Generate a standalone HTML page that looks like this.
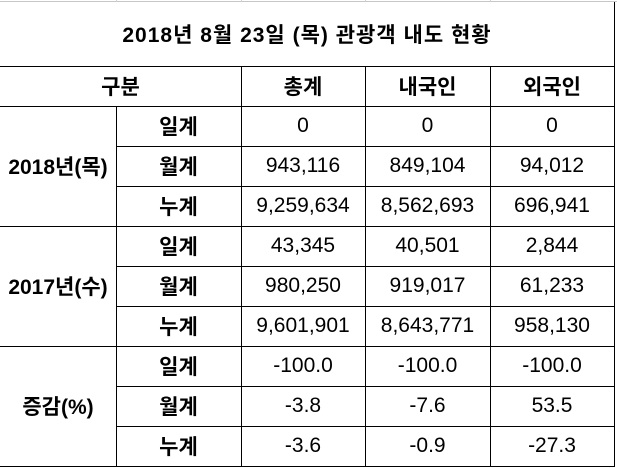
<!DOCTYPE html>
<html>
<head>
<meta charset="utf-8">
<style>
html,body{margin:0;padding:0;background:#fff;}
body{width:617px;height:468px;overflow:hidden;position:relative;
font-family:"Liberation Sans","Noto Sans CJK KR",sans-serif;color:#000;}
.h{position:absolute;height:1px;background:#000;}
.v{position:absolute;width:1px;background:#000;}
.c{position:absolute;display:flex;align-items:center;justify-content:center;
font-size:21px;white-space:nowrap;}
.b{font-weight:bold;}
</style>
</head>
<body>
<!-- grey gridline at top -->
<div style="position:absolute;left:0;top:1px;width:617px;height:1px;background:#c6c6c6;"></div>
<div style="position:absolute;left:116px;top:0;width:1px;height:2px;background:#d0d0d0;"></div>
<div style="position:absolute;left:241px;top:0;width:1px;height:2px;background:#d0d0d0;"></div>
<div style="position:absolute;left:365px;top:0;width:1px;height:2px;background:#d0d0d0;"></div>
<div style="position:absolute;left:490px;top:0;width:1px;height:2px;background:#d0d0d0;"></div>

<!-- horizontal lines -->
<div class="h" style="left:0;top:66px;width:615px;"></div>
<div class="h" style="left:0;top:106px;width:615px;"></div>
<div class="h" style="left:116px;top:146px;width:499px;"></div>
<div class="h" style="left:116px;top:186px;width:499px;"></div>
<div class="h" style="left:0;top:226px;width:615px;"></div>
<div class="h" style="left:116px;top:266px;width:499px;"></div>
<div class="h" style="left:116px;top:306px;width:499px;"></div>
<div class="h" style="left:0;top:346px;width:615px;"></div>
<div class="h" style="left:116px;top:386px;width:499px;"></div>
<div class="h" style="left:116px;top:426px;width:499px;"></div>
<div class="h" style="left:0;top:466px;width:615px;"></div>

<!-- vertical lines -->
<div class="v" style="left:116px;top:106px;height:361px;"></div>
<div class="v" style="left:241px;top:66px;height:401px;"></div>
<div class="v" style="left:365px;top:66px;height:401px;"></div>
<div class="v" style="left:490px;top:66px;height:401px;"></div>
<div class="v" style="left:614px;top:2px;height:465px;"></div>

<!-- title -->
<div class="c b" style="left:0;top:2px;width:614px;height:64px;letter-spacing:1px;">2018년 8월 23일 (목) 관광객 내도 현황</div>

<!-- header -->
<div class="c b" style="left:0;top:66px;width:241px;height:40px;">구분</div>
<div class="c b" style="left:241px;top:66px;width:124px;height:40px;">총계</div>
<div class="c b" style="left:365px;top:66px;width:125px;height:40px;">내국인</div>
<div class="c b" style="left:490px;top:66px;width:124px;height:40px;">외국인</div>

<!-- group labels -->
<div class="c b" style="left:0;top:106px;width:116px;height:120px;">2018년(목)</div>
<div class="c b" style="left:0;top:226px;width:116px;height:120px;">2017년(수)</div>
<div class="c b" style="left:0;top:346px;width:116px;height:120px;">증감(%)</div>

<!-- sub labels -->
<div class="c b" style="left:116px;top:106px;width:125px;height:40px;">일계</div>
<div class="c b" style="left:116px;top:146px;width:125px;height:40px;">월계</div>
<div class="c b" style="left:116px;top:186px;width:125px;height:40px;">누계</div>
<div class="c b" style="left:116px;top:226px;width:125px;height:40px;">일계</div>
<div class="c b" style="left:116px;top:266px;width:125px;height:40px;">월계</div>
<div class="c b" style="left:116px;top:306px;width:125px;height:40px;">누계</div>
<div class="c b" style="left:116px;top:346px;width:125px;height:40px;">일계</div>
<div class="c b" style="left:116px;top:386px;width:125px;height:40px;">월계</div>
<div class="c b" style="left:116px;top:426px;width:125px;height:40px;">누계</div>

<!-- data col 1 -->
<div class="c" style="left:241px;top:106px;width:124px;height:40px;">0</div>
<div class="c" style="left:241px;top:146px;width:124px;height:40px;">943,116</div>
<div class="c" style="left:241px;top:186px;width:124px;height:40px;">9,259,634</div>
<div class="c" style="left:241px;top:226px;width:124px;height:40px;">43,345</div>
<div class="c" style="left:241px;top:266px;width:124px;height:40px;">980,250</div>
<div class="c" style="left:241px;top:306px;width:124px;height:40px;">9,601,901</div>
<div class="c" style="left:241px;top:346px;width:124px;height:40px;">-100.0</div>
<div class="c" style="left:241px;top:386px;width:124px;height:40px;">-3.8</div>
<div class="c" style="left:241px;top:426px;width:124px;height:40px;">-3.6</div>

<!-- data col 2 -->
<div class="c" style="left:365px;top:106px;width:125px;height:40px;">0</div>
<div class="c" style="left:365px;top:146px;width:125px;height:40px;">849,104</div>
<div class="c" style="left:365px;top:186px;width:125px;height:40px;">8,562,693</div>
<div class="c" style="left:365px;top:226px;width:125px;height:40px;">40,501</div>
<div class="c" style="left:365px;top:266px;width:125px;height:40px;">919,017</div>
<div class="c" style="left:365px;top:306px;width:125px;height:40px;">8,643,771</div>
<div class="c" style="left:365px;top:346px;width:125px;height:40px;">-100.0</div>
<div class="c" style="left:365px;top:386px;width:125px;height:40px;">-7.6</div>
<div class="c" style="left:365px;top:426px;width:125px;height:40px;">-0.9</div>

<!-- data col 3 -->
<div class="c" style="left:490px;top:106px;width:124px;height:40px;">0</div>
<div class="c" style="left:490px;top:146px;width:124px;height:40px;">94,012</div>
<div class="c" style="left:490px;top:186px;width:124px;height:40px;">696,941</div>
<div class="c" style="left:490px;top:226px;width:124px;height:40px;">2,844</div>
<div class="c" style="left:490px;top:266px;width:124px;height:40px;">61,233</div>
<div class="c" style="left:490px;top:306px;width:124px;height:40px;">958,130</div>
<div class="c" style="left:490px;top:346px;width:124px;height:40px;">-100.0</div>
<div class="c" style="left:490px;top:386px;width:124px;height:40px;">53.5</div>
<div class="c" style="left:490px;top:426px;width:124px;height:40px;">-27.3</div>
</body>
</html>
